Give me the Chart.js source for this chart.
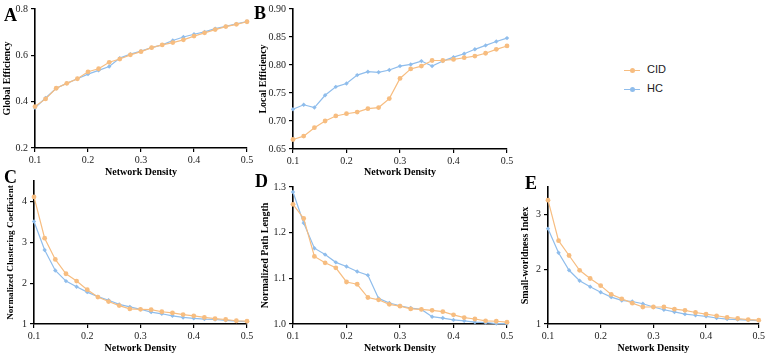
<!DOCTYPE html>
<html>
<head>
<meta charset="utf-8">
<script src="https://cdn.jsdelivr.net/npm/chart.js@4.4.0/dist/chart.umd.min.js"></script>
<style>
  body { margin: 0; background: #fff; width: 767px; height: 359px; position: relative; overflow: hidden; }
  canvas { position: absolute; }
  .tag { position: absolute; font: bold 18px "Liberation Serif", serif; color: #000; line-height: 18px; }
  .legend { position: absolute; left: 624px; top: 60px; font: 11px "Liberation Sans", Arial, sans-serif; color: #222; }
  .legend div { height: 19px; line-height: 19px; white-space: nowrap; }
  .legend i { display: inline-block; position: relative; width: 16px; height: 1px; vertical-align: middle; margin-right: 7px; }
  .legend i b { position: absolute; left: 6px; top: -2px; width: 5px; height: 5px; border-radius: 50%; }
</style>
</head>
<body>
<div class="legend" id="legend"></div>

<canvas id="cA" width="258" height="180" style="left:0px;top:0px"></canvas>
<canvas id="cB" width="262" height="180" style="left:256px;top:0px"></canvas>
<canvas id="cC" width="258" height="191" style="left:0px;top:168px"></canvas>
<canvas id="cD" width="262" height="181" style="left:256px;top:178px"></canvas>
<canvas id="cE" width="250" height="181" style="left:517px;top:178px"></canvas>

<div class="tag" style="left:4px;top:6px">A</div>
<div class="tag" style="left:254px;top:4px">B</div>
<div class="tag" style="left:4px;top:168px">C</div>
<div class="tag" style="left:255px;top:172px">D</div>
<div class="tag" style="left:525px;top:174px">E</div>

<script>
// network density (x) for every series
var density = [0.10, 0.12, 0.14, 0.16, 0.18, 0.20, 0.22, 0.24, 0.26, 0.28, 0.30,
               0.32, 0.34, 0.36, 0.38, 0.40, 0.42, 0.44, 0.46, 0.48, 0.50];
var xTicks = [0.1, 0.2, 0.3, 0.4, 0.5];

var seriesNames = ['CID', 'HC'];
var seriesColors = ['#f7bd80', '#8fbdec'];

// A - global efficiency
var globalCID = [0.379, 0.412, 0.458, 0.479, 0.499, 0.529, 0.542, 0.570, 0.584, 0.602, 0.616,
                 0.633, 0.645, 0.655, 0.667, 0.683, 0.697, 0.711, 0.724, 0.734, 0.745];
var globalHC  = [0.374, 0.416, 0.458, 0.479, 0.499, 0.519, 0.535, 0.552, 0.588, 0.605, 0.618,
                 0.633, 0.645, 0.664, 0.679, 0.691, 0.701, 0.715, 0.725, 0.736, 0.746];
var yTicksA = [0.2, 0.4, 0.6, 0.8];

// B - local efficiency
var localCID = [0.667, 0.673, 0.688, 0.700, 0.709, 0.713, 0.716, 0.722, 0.724, 0.740, 0.776,
                0.793, 0.798, 0.808, 0.808, 0.810, 0.813, 0.816, 0.821, 0.828, 0.834];
var localHC  = [0.721, 0.729, 0.724, 0.746, 0.761, 0.767, 0.782, 0.788, 0.787, 0.791, 0.798,
                0.801, 0.807, 0.798, 0.807, 0.814, 0.820, 0.828, 0.835, 0.842, 0.848];
var yTicksB = [0.65, 0.70, 0.75, 0.80, 0.85, 0.90];

// C - normalized clustering coefficient
var clustCID = [4.11, 3.10, 2.58, 2.23, 2.05, 1.84, 1.66, 1.55, 1.45, 1.37, 1.36,
                1.35, 1.30, 1.27, 1.23, 1.20, 1.16, 1.13, 1.11, 1.08, 1.07];
var clustHC  = [3.51, 2.81, 2.31, 2.05, 1.91, 1.78, 1.67, 1.58, 1.48, 1.42, 1.36,
                1.29, 1.25, 1.20, 1.16, 1.14, 1.12, 1.11, 1.09, 1.07, 1.06];
var yTicksC = [1, 2, 3, 4];

// D - normalized path length
var pathCID = [1.262, 1.231, 1.148, 1.134, 1.123, 1.092, 1.087, 1.058, 1.053, 1.043, 1.039,
               1.033, 1.032, 1.030, 1.027, 1.020, 1.014, 1.011, 1.007, 1.006, 1.004];
var pathHC  = [1.289, 1.221, 1.166, 1.152, 1.135, 1.126, 1.115, 1.107, 1.056, 1.046, 1.040,
               1.035, 1.032, 1.016, 1.013, 1.009, 1.007, 1.004, 1.003, 1.001, 1.001];
var yTicksD = [1.0, 1.1, 1.2, 1.3];

// E - small-worldness index
var smallCID = [3.26, 2.52, 2.25, 1.98, 1.83, 1.70, 1.54, 1.46, 1.38, 1.31, 1.31,
                1.31, 1.27, 1.25, 1.21, 1.18, 1.15, 1.12, 1.10, 1.08, 1.07];
var smallHC  = [2.74, 2.30, 1.98, 1.79, 1.68, 1.58, 1.49, 1.43, 1.41, 1.37, 1.31,
                1.26, 1.22, 1.18, 1.16, 1.14, 1.11, 1.09, 1.08, 1.07, 1.06];
var yTicksE = [1, 2, 3];

var serif = '"Liberation Serif", "Times New Roman", serif';

function pts(values) {
  return values.map(function (v, i) { return { x: density[i], y: v }; });
}

function axisBase() {
  return {
    border: { display: true, color: '#000', width: 1.6 },
    grid: { display: true, drawOnChartArea: false, drawTicks: true, tickLength: 4, color: '#000', lineWidth: 1.2 }
  };
}

// box: canvas position on page, area: wanted plot area on page
function panel(id, box, area, yTitle, yMin, yMax, yTicks, yDec, yTitlePad, yTitleSize, cid, hc) {
  var canvas = document.getElementById(id);
  var xAxis = axisBase();
  xAxis.type = 'linear';
  xAxis.min = 0.1;
  xAxis.max = 0.5;
  xAxis.afterBuildTicks = function (s) { s.ticks = xTicks.map(function (v) { return { value: v }; }); };
  xAxis.afterFit = function (s) { s.height = box.t + box.h - area.b; };
  xAxis.ticks = {
    padding: 2, color: '#222', font: { family: serif, size: 10 },
    maxRotation: 0, autoSkip: false,
    callback: function (v) { return v.toFixed(1); }
  };
  xAxis.title = { display: true, text: 'Network Density', color: '#000',
                  font: { family: serif, size: 10, weight: 'bold' },
                  padding: { top: 0, bottom: box.t === 0 ? 2 : 5 } };

  var yAxis = axisBase();
  yAxis.min = yMin;
  yAxis.max = yMax;
  yAxis.afterBuildTicks = function (s) { s.ticks = yTicks.map(function (v) { return { value: v }; }); };
  yAxis.afterFit = function (s) { s.width = area.l - box.l; };
  yAxis.ticks = {
    padding: 3, color: '#222', font: { family: serif, size: 10 },
    callback: function (v) { return v.toFixed(yDec); }
  };
  yAxis.title = { display: true, text: yTitle, color: '#000',
                  font: { family: serif, size: yTitleSize, weight: 'bold' },
                  padding: { top: yTitlePad, bottom: 0 } };

  function ds(i, values) {
    return {
      label: seriesNames[i],
      data: pts(values),
      borderColor: seriesColors[i],
      backgroundColor: seriesColors[i],
      borderWidth: 1.2,
      pointStyle: i === 0 ? 'circle' : 'rectRot',
      pointRadius: i === 0 ? 2.4 : 2.2,
      pointBorderWidth: 0,
      tension: 0,
      clip: false
    };
  }

  return new Chart(canvas.getContext('2d'), {
    type: 'line',
    data: { datasets: [ds(0, cid), ds(1, hc)] },
    options: {
      responsive: false,
      animation: false,
      devicePixelRatio: 1,
      layout: { padding: { left: 0, bottom: 0, top: area.t - box.t, right: box.l + box.w - area.r } },
      plugins: { legend: { display: false }, tooltip: { enabled: false } },
      scales: { x: xAxis, y: yAxis }
    }
  });
}

panel('cA', { l: 0, t: 0, w: 258, h: 180 }, { l: 35, t: 7, r: 247, b: 148 },
      'Global Efficiency', 0.2, 0.8, yTicksA, 1, 1, 10, globalCID, globalHC);
panel('cB', { l: 256, t: 0, w: 262, h: 180 }, { l: 293, t: 6, r: 507, b: 149 },
      'Local Efficiency', 0.65, 0.9, yTicksB, 2, 1, 10, localCID, localHC);
panel('cC', { l: 0, t: 168, w: 258, h: 191 }, { l: 34, t: 181, r: 247, b: 324 },
      'Normalized Clustering Coefficient', 1, 4.5, yTicksC, 0, 5, 9.2, clustCID, clustHC);
panel('cD', { l: 256, t: 178, w: 262, h: 181 }, { l: 293, t: 182, r: 507, b: 324 },
      'Normalized Path Length', 1.0, 1.3, yTicksD, 1, 3, 10, pathCID, pathHC);
panel('cE', { l: 517, t: 178, w: 250, h: 181 }, { l: 548, t: 182, r: 761, b: 324 },
      'Small-worldness Index', 1, 3.5, yTicksE, 0, 2, 10, smallCID, smallHC);

// legend built from the series
var legend = document.getElementById('legend');
seriesNames.forEach(function (name, i) {
  var row = document.createElement('div');
  var mark = document.createElement('i');
  mark.style.background = seriesColors[i];
  var dot = document.createElement('b');
  dot.style.background = seriesColors[i];
  mark.appendChild(dot);
  row.appendChild(mark);
  row.appendChild(document.createTextNode(name));
  legend.appendChild(row);
});
</script>
</body>
</html>
